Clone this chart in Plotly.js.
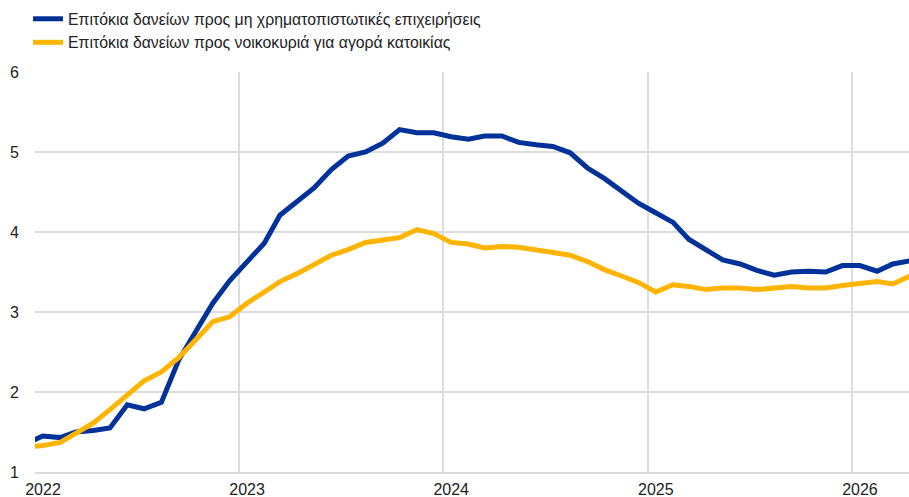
<!DOCTYPE html>
<html>
<head>
<meta charset="utf-8">
<script src="https://cdn.plot.ly/plotly-3.0.1.min.js"></script>
<style>
html,body{margin:0;padding:0;background:#fff;}
#chart{width:909px;height:497px;}
</style>
</head>
<body>
<div id="chart"></div>
<script>
const months = [
 '2021-12-15',
 '2022-01-15','2022-02-15','2022-03-15','2022-04-15','2022-05-15','2022-06-15','2022-07-15','2022-08-15','2022-09-15','2022-10-15','2022-11-15','2022-12-15',
 '2023-01-15','2023-02-15','2023-03-15','2023-04-15','2023-05-15','2023-06-15','2023-07-15','2023-08-15','2023-09-15','2023-10-15','2023-11-15','2023-12-15',
 '2024-01-15','2024-02-15','2024-03-15','2024-04-15','2024-05-15','2024-06-15','2024-07-15','2024-08-15','2024-09-15','2024-10-15','2024-11-15','2024-12-15',
 '2025-01-15','2025-02-15','2025-03-15','2025-04-15','2025-05-15','2025-06-15','2025-07-15','2025-08-15','2025-09-15','2025-10-15','2025-11-15','2025-12-15',
 '2026-01-15','2026-02-15','2026-03-15','2026-04-15'
];
const nfcRates = [
 1.35,
 1.45,1.43,1.50,1.52,1.55,1.84,1.79,1.87,2.40,2.75,3.11,3.39,
 3.63,3.86,4.21,4.38,4.55,4.78,4.95,5.00,5.11,5.28,5.24,5.24,
 5.19,5.16,5.20,5.20,5.12,5.09,5.07,4.99,4.80,4.67,4.52,4.36,
 4.24,4.12,3.91,3.78,3.65,3.60,3.52,3.46,3.50,3.51,3.50,3.58,
 3.58,3.51,3.60,3.64
];
const housingRates = [
 1.31,
 1.33,1.37,1.48,1.61,1.78,1.97,2.14,2.25,2.43,2.65,2.88,2.94,
 3.11,3.25,3.38,3.48,3.60,3.71,3.78,3.87,3.90,3.93,4.03,3.98,
 3.87,3.85,3.80,3.82,3.81,3.78,3.75,3.71,3.63,3.53,3.45,3.37,
 3.25,3.34,3.32,3.28,3.30,3.30,3.28,3.30,3.32,3.30,3.30,3.33,
 3.36,3.38,3.35,3.45
];
const seriesNames = [
 'Επιτόκια δανείων προς μη χρηματοπιστωτικές επιχειρήσεις',
 'Επιτόκια δανείων προς νοικοκυριά για αγορά κατοικίας'
];
const yearTicks = ['2022-01-01','2023-01-01','2024-01-01','2025-01-01','2026-01-01'];
const yearLabels = ['2022','2023','2024','2025','2026'];
const yTicks = [1,2,3,4,5,6];

const traces = [
 {x: months, y: nfcRates, name: seriesNames[0], type: 'scatter', mode: 'lines',
  line: {color: '#003299', width: 5}},
 {x: months, y: housingRates, name: seriesNames[1], type: 'scatter', mode: 'lines',
  line: {color: '#ffb400', width: 5}}
];

const layout = {
 width: 909, height: 497,
 margin: {l: 35, r: 0, t: 72, b: 25},
 paper_bgcolor: '#ffffff', plot_bgcolor: '#ffffff',
 font: {family: 'Liberation Sans, Arial, sans-serif', color: '#222222'},
 showlegend: true,
 legend: {
  x: -0.008, xanchor: 'left', y: 1.175, yanchor: 'top',
  orientation: 'v', font: {size: 15.8, color: '#222222'},
  bgcolor: 'rgba(0,0,0,0)', borderwidth: 0, tracegroupgap: 0
 },
 hovermode: false,
 xaxis: {
  type: 'date',
  range: ['2022-01-01', '2026-04-13'],
  tickmode: 'array', tickvals: yearTicks, ticktext: yearLabels,
  ticklabelshift: 8,
  showgrid: true, gridcolor: '#dcdcdc', gridwidth: 2,
  zeroline: false,
  showline: true, linecolor: '#dcdcdc', linewidth: 2,
  ticks: 'outside', ticklen: 2, tickcolor: 'rgba(0,0,0,0)',
  tickfont: {size: 16, color: '#222222'}
 },
 yaxis: {
  range: [1, 6],
  tickmode: 'array', tickvals: yTicks,
  showgrid: true, gridcolor: '#dcdcdc', gridwidth: 2,
  zeroline: false, showline: false,
  ticks: 'outside', ticklen: 12, tickcolor: 'rgba(0,0,0,0)',
  tickfont: {size: 16, color: '#222222'}
 }
};

Plotly.newPlot('chart', traces, layout, {displayModeBar: false, staticPlot: true});
</script>
</body>
</html>
